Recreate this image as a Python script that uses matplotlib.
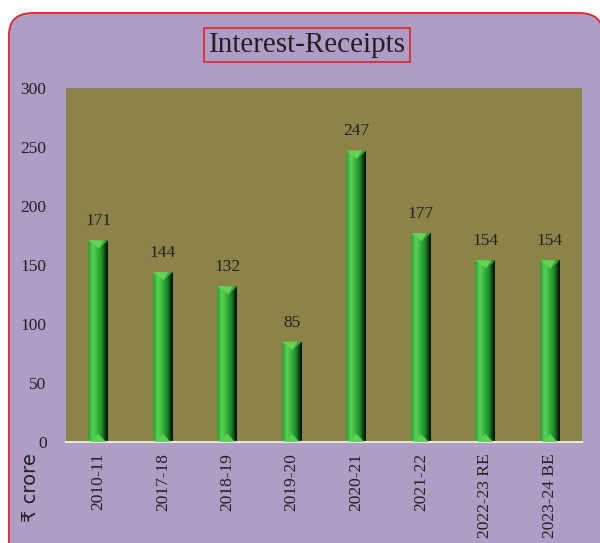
import matplotlib
matplotlib.use("Agg")
import matplotlib.pyplot as plt
import numpy as np
from matplotlib.patches import FancyBboxPatch, Rectangle, Polygon
from matplotlib.colors import LinearSegmentedColormap

categories = ["2010-11", "2017-18", "2018-19", "2019-20", "2020-21", "2021-22", "2022-23 RE", "2023-24 BE"]
values = [171, 144, 132, 85, 247, 177, 154, 154]
yticks = [0, 50, 100, 150, 200, 250, 300]

W, H = 600, 543
fig = plt.figure(figsize=(W / 100, H / 100), dpi=100)
fig.patch.set_facecolor("white")

# panel
panel = FancyBboxPatch((9 / W, -0.05), 0.99, (H - 13) / H + 0.05,
                       boxstyle="round,pad=0,rounding_size=0.04",
                       transform=fig.transFigure, facecolor="#AE9EC6",
                       edgecolor="#E8202A", linewidth=1.3, zorder=-10)
fig.patches.append(panel)

ax = fig.add_axes([66 / W, 1 - 442 / H, 516 / W, 354 / H])
ax.set_zorder(5)
ax.set_facecolor("#8C8348")
ax.set_xlim(-0.5, len(categories) - 0.5)
ax.set_ylim(0, 300)

cmap = LinearSegmentedColormap.from_list("cyl", [
    (0.0, "#2f9e36"), (0.25, "#58d256"), (0.45, "#3ab840"),
    (0.7, "#1f8a2a"), (0.85, "#0f4a16"), (1.0, "#050a05")])
grad = np.linspace(0, 1, 64).reshape(1, -1)
bw = 0.31
cap = 7
for i, v in enumerate(values):
    x0, x1 = i - bw / 2, i + bw / 2
    im = ax.imshow(grad, cmap=cmap, aspect="auto", extent=[x0, x1, 0, v], zorder=2)
    clip = Rectangle((x0, 0), bw, v, transform=ax.transData, facecolor="none", edgecolor="none")
    ax.add_patch(clip)
    im.set_clip_path(clip)
    ax.add_patch(Polygon([(x0, v), (i + bw * 0.3, v), (i + bw * 0.05, v - cap)],
                         closed=True, facecolor="#66d258", edgecolor="none", zorder=3))
    ax.add_patch(Polygon([(i + bw * 0.3, v), (x1, v), (i + bw * 0.05, v - cap)],
                         closed=True, facecolor="#3aa83a", edgecolor="none", zorder=3))
    ax.add_patch(Polygon([(x0 + bw * 0.1, 0), (x1 - bw * 0.1, 0), (i, cap)],
                         closed=True, facecolor="#5ccf55", edgecolor="none", zorder=3))
    ax.annotate(str(v), (i, v), xytext=(0, 8), textcoords="offset points",
                ha="center", va="bottom", fontsize=12.5, family="Liberation Serif",
                color="#231f20")
ax.set_aspect("auto")

ax.set_xticks(range(len(categories)))
ax.set_xticklabels(categories, rotation=90, family="Liberation Serif", fontsize=12.5, color="#231f20")
ax.set_yticks(yticks)
ax.set_yticklabels([str(t) for t in yticks], family="Liberation Serif", fontsize=12.5, color="#231f20")
ax.tick_params(length=0, pad=8)
ax.tick_params(axis="y", pad=14)
for s in ["top", "right", "left"]:
    ax.spines[s].set_visible(False)
ax.spines["bottom"].set_color("#e8e4d8")
ax.spines["bottom"].set_linewidth(1.5)

fig.text(307 / W, 1 - 45 / H, "Interest-Receipts", ha="center", va="center",
         fontsize=21, family="Liberation Serif", color="#231f20",
         bbox=dict(boxstyle="square,pad=0.15", facecolor="none", edgecolor="#E8202A", linewidth=1.2))
fig.text(30 / W, 1 - 488 / H, "₹ crore", rotation=90, ha="center", va="center",
         fontsize=14, family=["DejaVu Sans"], color="#231f20")

fig.savefig("out.png", dpi=100, facecolor="white")
